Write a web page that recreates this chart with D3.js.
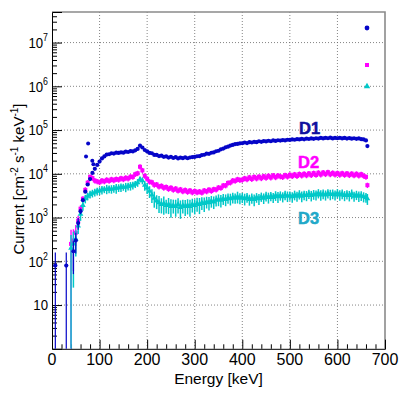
<!DOCTYPE html>
<html><head><meta charset="utf-8">
<script src="https://cdn.jsdelivr.net/npm/d3@7"></script>
<style>
body{margin:0;background:#fff}
svg{display:block}
text{font-family:"Liberation Sans",Arial,Helvetica,sans-serif}
</style>
</head><body>
<svg id="c" width="407" height="396"></svg>
<script>
// ---------------- DATA ----------------
const energy = [
  7, 30, 35,
  40, 45, 50, 55, 60, 65, 70, 75, 80, 85, 90, 95,
  100,105,110,115,120,125,130,135,140,145,150,155,160,165,170,175,180,185,190,195,
  200,205,210,215,220,225,230,235,240,245,250,255,260,265,270,275,280,285,290,295,
  300,305,310,315,320,325,330,335,340,345,350,355,360,365,370,375,380,385,390,395,
  400,405,410,415,420,425,430,435,440,445,450,455,460,465,470,475,480,485,490,495,
  500,505,510,515,520,525,530,535,540,545,550,555,560,565,570,575,580,585,590,595,
  600,605,610,615,620,625,630,635,640,645,650,655,660,
  663
];
const d1 = [
  80, 80, null,
  null, 170, 300, 750, 1400, 2500, 3900, 5700, 7600, 10500, 13000, 16000,
  19000,22500,25000,27500,28000,29500,29000,30500,30000,31000,30500,32000,31500,33000,32500,34500,37000,44000,40000,35000,
  32500,30000,29500,27000,27000,25500,26000,24500,25000,23500,24500,23000,24000,22500,23500,22800,23800,22700,23600,24200,
  24300,25200,25300,26800,27300,28800,28700,30300,30800,32800,33700,36300,37700,40300,41700,44300,45700,47800,48200,49800,
  50000,52000,50500,53000,52000,54000,53000,55500,54000,56000,55000,57000,55500,58000,56500,58500,57500,59000,58000,60000,
  59500,61000,60000,62000,61000,63000,61500,64000,62500,64500,63000,65000,64000,66000,64500,66500,65000,67000,64500,66000,
  65000,66500,64500,66000,64000,65500,63500,65000,63000,64500,62000,61000,58000,
  43000
];
const d2 = [
  null, null, null,
  250, 300, 450, 850, 1600, 2700, 4300, 6300, 8500, 8000, 7000, 6700,
  6400,7000,6700,7300,6900,7500,7100,7600,7300,7900,7500,8100,7800,8600,8500,9800,10300,14500,12000,9000,
  7700,6600,6400,5600,5700,5100,5300,4800,5000,4500,4800,4300,4600,4100,4400,3950,4250,3850,4150,3750,
  4050,3750,3950,3700,4150,3950,4350,4050,4450,4350,4850,4750,5400,5400,6200,6300,7000,6900,7500,7200,
  7300,7900,7500,8300,7600,8500,7800,8600,7900,8800,8100,9000,8200,9200,8300,9100,8700,8400,9300,8600,
  9500,8800,9700,8900,9900,9100,10000,9200,10200,9300,10400,9400,10600,9600,10700,9800,10900,9700,10500,9600,
  10400,9500,10300,9400,10200,9300,10100,9200,10000,9100,9800,9000,8500,
  5500
];
const d3v = [
  null, null, null,
  200, 250, 320, 650, 1200, 1900, 2700, 3100, 3400, 3600, 3800, 4000,
  4100,4300,4400,4500,4500,4500,4600,4700,4800,4900,5000,5000,5200,5300,5500,5800,6300,7500,7000,5500,
  4800,4000,3300,2800,2400,2200,2000,2100,1900,2000,1800,1900,1800,2000,1700,1900,1800,1900,1800,2000,
  1900,2100,2000,2200,2100,2300,2200,2400,2300,2500,2600,2500,2700,2600,2800,2700,2900,2800,3000,2800,
  2900,2700,2900,2600,2800,2600,2900,2700,3000,2800,3100,2900,3100,2900,3200,3000,3200,3000,3300,3100,
  3200,3000,3300,3100,3400,3100,3300,3200,3500,3200,3400,3300,3600,3300,3500,3300,3600,3400,3500,3300,
  3600,3300,3500,3200,3400,3200,3500,3100,3300,3100,3200,3000,2900,
  2700
];
// relative errors (fraction of value)
const d1RelErrLow = [1.0, 1.0, null, null, 0.7, 0.5, 0.3, 0.15];
const d1RelErrDefault = 0.04;
const d2RelErrLow = [null, null, null, 1.1, 0.8, 0.5, 0.3, 0.2];
const d2RelErrDefault = 0.14;
const d3RelErr = [
  null, null, null,
  1.0, 0.9, 0.6, 0.35, 0.3, 0.25, 0.22, 0.2, 0.2, 0.2, 0.2, 0.2,
  0.2,0.22,0.18,0.24,0.2,0.22,0.2,0.25,0.2,0.22,0.18,0.24,0.2,0.22,0.2,0.18,0.2,0.15,0.18,0.25,
  0.28,0.3,0.35,0.4,0.35,0.42,0.38,0.45,0.35,0.4,0.45,0.35,0.42,0.38,0.45,0.35,0.4,0.38,0.42,0.35,
  0.38,0.35,0.4,0.32,0.36,0.3,0.34,0.3,0.32,0.28,0.3,0.32,0.28,0.3,0.26,0.3,0.28,0.26,0.3,0.28,
  0.26,0.3,0.25,0.28,0.26,0.3,0.25,0.28,0.24,0.27,0.25,0.28,0.24,0.26,0.25,0.28,0.24,0.26,0.25,0.27,
  0.24,0.27,0.25,0.26,0.24,0.28,0.25,0.26,0.24,0.27,0.25,0.26,0.24,0.27,0.25,0.26,0.24,0.27,0.25,0.26,
  0.24,0.27,0.25,0.26,0.24,0.27,0.25,0.26,0.24,0.27,0.25,0.26,0.25,
  0.28
];
// isolated D1 outliers in the rise region
const d1OutE = [71.5, 76, 84.7, 87];
const d1OutV = [25000, 49000, 20000, 16500];

const xTicks = [0,100,200,300,400,500,600,700];
const xGridVals = [100,200,300,400,500,600];
const yMajor = [10,1e2,1e3,1e4,1e5,1e6,1e7];
const yLabels = [
  {v:10, base:"10", exp:""},
  {v:1e2, base:"10", exp:"2"},
  {v:1e3, base:"10", exp:"3"},
  {v:1e4, base:"10", exp:"4"},
  {v:1e5, base:"10", exp:"5"},
  {v:1e6, base:"10", exp:"6"},
  {v:1e7, base:"10", exp:"7"}
];
const seriesNames = ["D1","D2","D3"];

// ---------------- CHART ----------------
const L=52, R=385, T=12, B=348.8;
const x = d3.scaleLinear().domain([0,700]).range([L,R]);
const y = d3.scaleLog().domain([1,5e7]).range([B,T]);
const svg = d3.select('#c');

const col = {d1:'#0505c8', d2:'#ff00ff', d3:'#00c8c8'};
const lab = {d1:'#10109e', d2:'#ff00ff', d3:'#22a8c8'};

// grid
const grid = svg.append('g').attr('stroke','#666').attr('stroke-width',0.8).attr('stroke-dasharray','1,2');
grid.selectAll('.gx').data(xGridVals).join('line')
  .attr('x1',d=>x(d)).attr('x2',d=>x(d)).attr('y1',T).attr('y2',B);
grid.selectAll('.gy').data(yMajor).join('line')
  .attr('x1',L).attr('x2',R).attr('y1',d=>y(d)).attr('y2',d=>y(d));

// frame (top/right grey)
svg.append('path').attr('d',`M${L},${T}H${R}V${B}`).attr('fill','none')
  .attr('stroke','#8a8a8a').attr('stroke-width',1.6);

// axes
const xMinor = d3.range(0,701,20).filter(v=>v%100!==0);
const gx = svg.append('g').attr('transform',`translate(0,${B})`);
gx.call(d3.axisBottom(x).tickValues(xTicks).tickSize(-9).tickFormat(''));
gx.append('g').call(d3.axisBottom(x).tickValues(xMinor).tickSize(-4.5).tickFormat(''));
gx.selectAll('g g path.domain').remove();
gx.selectAll('path.domain').attr('stroke','#000');
gx.selectAll('.tick line').attr('stroke','#000');

const yMinor = [];
for (let k=0;k<8;k++) for (let m=2;m<=9;m++){ const v=m*Math.pow(10,k); if(v<5e7) yMinor.push(v); }
const gy = svg.append('g').attr('transform',`translate(${L},0)`);
gy.call(d3.axisLeft(y).tickValues(yMajor).tickSize(-10).tickFormat(''));
gy.append('g').call(d3.axisLeft(y).tickValues(yMinor).tickSize(-5).tickFormat(''));
gy.selectAll('g g path.domain').remove();
gy.selectAll('path.domain').attr('stroke','#000');

// tick labels
svg.append('g').selectAll('text').data(xTicks).join('text')
  .attr('x',d=>x(d)).attr('y',364.5).attr('text-anchor','middle')
  .attr('font-size',16).text(d=>d);

const yl = svg.append('g').selectAll('text').data(yLabels).join('text')
  .attr('transform',d=>`translate(48,${y(d.v)+5.3}) scale(0.88,1)`)
  .attr('text-anchor','end').attr('font-size',15);
yl.append('tspan').text(d=>d.base);
yl.filter(d=>d.exp).append('tspan').attr('dy',-7).attr('font-size',10).text(d=>d.exp);

// axis titles
svg.append('text').attr('x',(L+R)/2).attr('y',383.5).attr('text-anchor','middle')
  .attr('font-size',15.5).text('Energy [keV]');
const yt = svg.append('text').attr('transform','translate(24,179) rotate(-90)')
  .attr('text-anchor','middle').attr('font-size',15);
yt.append('tspan').text('Current [cm');
yt.append('tspan').attr('dy',-6).attr('font-size',10).text('-2');
yt.append('tspan').attr('dy',6).text(' s');
yt.append('tspan').attr('dy',-6).attr('font-size',10).text('-1');
yt.append('tspan').attr('dy',6).text(' keV');
yt.append('tspan').attr('dy',-6).attr('font-size',10).text('-1');
yt.append('tspan').attr('dy',6).text(']');

// data helpers
function pts(vals, relErrFn){
  return energy.map((e,i)=>({e, v:vals[i], r:relErrFn(i)})).filter(d=>d.v!=null);
}
const p1 = pts(d1, i => (i<d1RelErrLow.length && d1RelErrLow[i]!=null) ? d1RelErrLow[i] : d1RelErrDefault);
const p2 = pts(d2, i => (i<d2RelErrLow.length && d2RelErrLow[i]!=null) ? d2RelErrLow[i] : d2RelErrDefault);
const p3 = pts(d3v, i => d3RelErr[i]);

const plot = svg.append('g');
function errBars(g, data, color, w){
  g.selectAll('line.eb').data(data).join('line')
    .attr('x1',d=>x(d.e)).attr('x2',d=>x(d.e))
    .attr('y1',d=>{const lo=d.v*(1-d.r); return lo<=1? B : y(lo);})
    .attr('y2',d=>y(d.v*(1+d.r)))
    .attr('stroke',color).attr('stroke-width',w);
}
// D2
const g2 = plot.append('g');
errBars(g2,p2,col.d2,1.4);
g2.selectAll('rect').data(p2).join('rect')
  .attr('x',d=>x(d.e)-2).attr('y',d=>y(d.v)-2).attr('width',4).attr('height',4).attr('fill',col.d2);
// D3
const g3 = plot.append('g');
errBars(g3,p3,col.d3,1.5);
const tri = d3.symbol().type(d3.symbolTriangle).size(14);
g3.selectAll('path').data(p3).join('path')
  .attr('transform',d=>`translate(${x(d.e)},${y(d.v)})`).attr('d',tri).attr('fill',col.d3);
// D1
const g1 = plot.append('g');
errBars(g1,p1,col.d1,1.2);
g1.selectAll('circle').data(p1).join('circle')
  .attr('cx',d=>x(d.e)).attr('cy',d=>y(d.v)).attr('r',2.1).attr('fill',col.d1);
g1.selectAll('circle.o').data(d1OutE.map((e,i)=>({e,v:d1OutV[i]}))).join('circle').attr('class','o')
  .attr('cx',d=>x(d.e)).attr('cy',d=>y(d.v)).attr('r',2).attr('fill',col.d1);

// legend markers (top right)
svg.append('circle').attr('cx',367).attr('cy',28).attr('r',2.4).attr('fill',col.d1);
svg.append('rect').attr('x',365).attr('y',63).attr('width',4).attr('height',4).attr('fill',col.d2);
svg.append('path').attr('transform','translate(367,86.5)').attr('d',d3.symbol().type(d3.symbolTriangle).size(18)).attr('fill',col.d3);

// series labels
const labPos = [[299,134,lab.d1],[298,167.5,lab.d2],[298,224,lab.d3]];
svg.append('g').selectAll('text').data(seriesNames).join('text')
  .attr('x',(d,i)=>labPos[i][0]).attr('y',(d,i)=>labPos[i][1])
  .attr('font-size',16.5).attr('font-weight','bold')
  .attr('fill',(d,i)=>labPos[i][2]).attr('stroke',(d,i)=>labPos[i][2]).attr('stroke-width',0.5)
  .text(d=>d);
</script>
</body></html>
